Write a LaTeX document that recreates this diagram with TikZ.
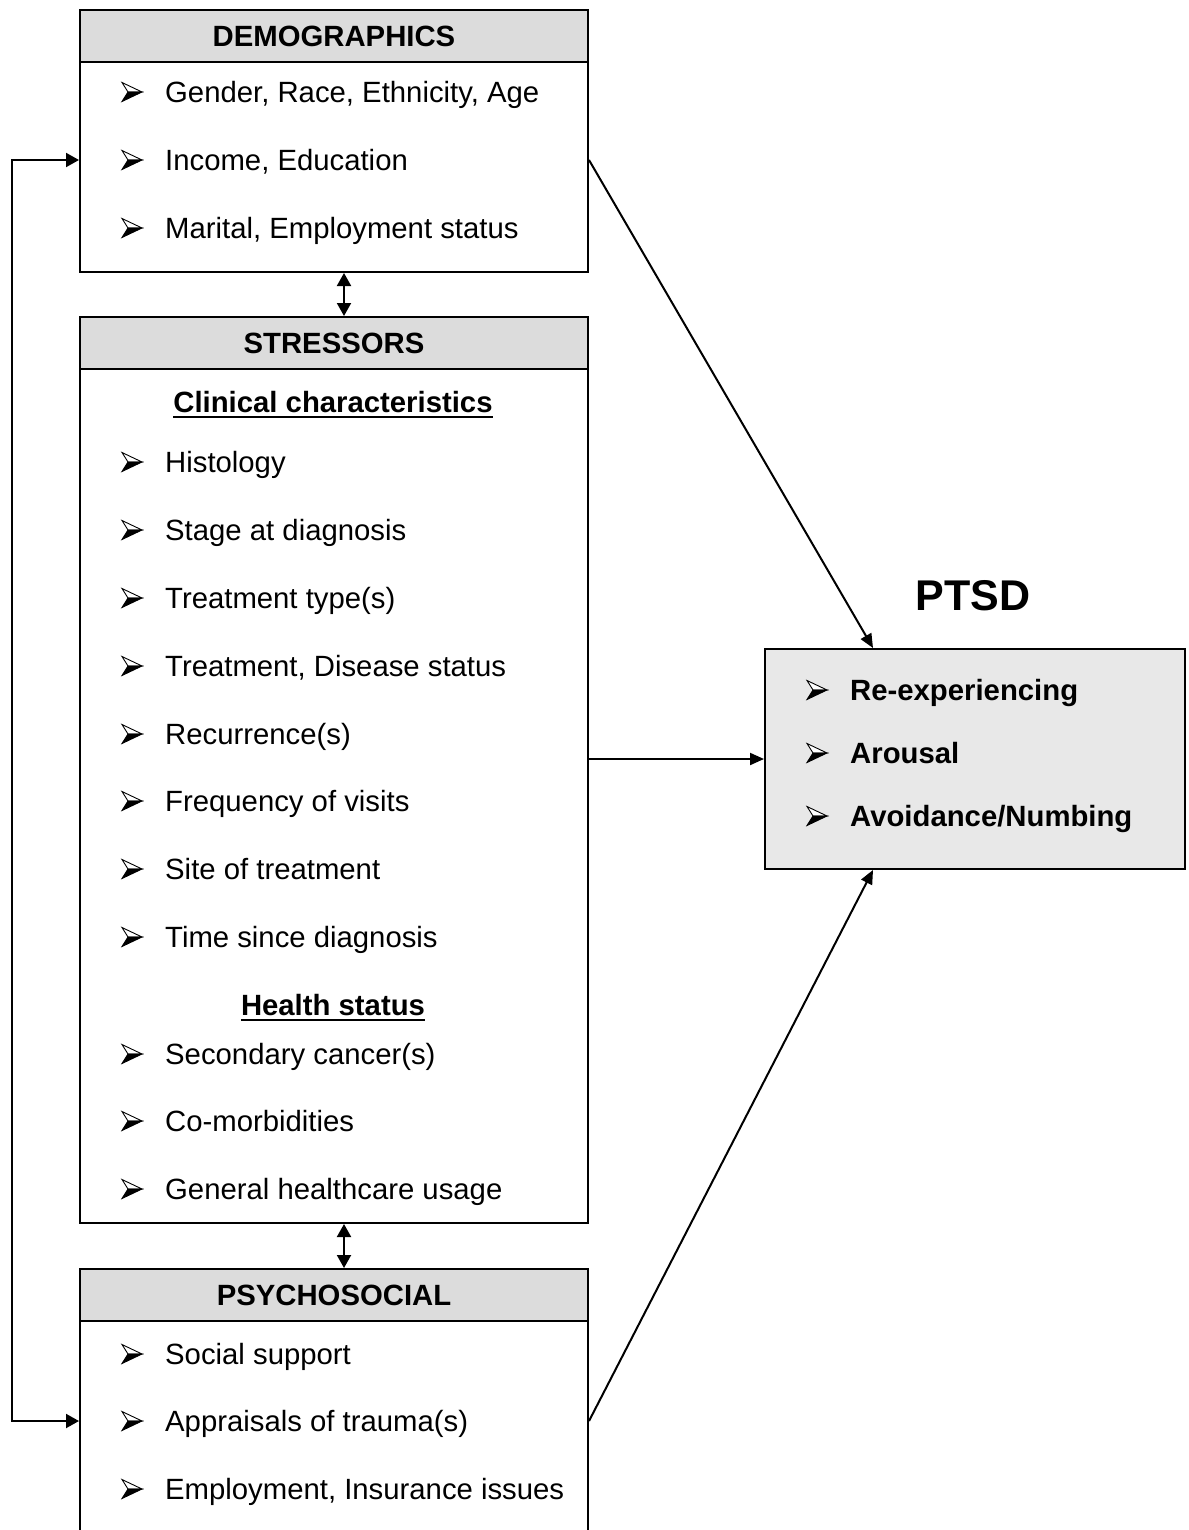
\documentclass[tikz,border=0pt]{standalone}
\usepackage{fontspec}
\setmainfont{Liberation Sans}
\usetikzlibrary{arrows.meta,calc}
\definecolor{hdrgray}{HTML}{DCDCDC}
\definecolor{ptsdgray}{HTML}{E8E8E8}
\begin{document}
\begin{tikzpicture}[x=1pt,y=-1pt,
  font=\fontsize{29.3}{35}\selectfont,
  frame/.style={draw=black,line width=2pt,fill=white,inner sep=0pt,anchor=north west,minimum width=508pt},
  hdr/.style={draw=black,line width=2pt,fill=hdrgray,inner sep=0pt,anchor=north west,minimum width=508pt,minimum height=52pt,font=\fontsize{29.3}{35}\selectfont\bfseries},
  item/.style={anchor=west,inner sep=0pt,text height=21pt,text depth=0pt},
  sub/.style={anchor=center,inner sep=0pt,text height=21pt,text depth=0pt,font=\fontsize{29.3}{35}\selectfont\bfseries},
  arr/.style={line width=2pt,-{Triangle[length=14pt,width=12pt]}},
  darr/.style={line width=2pt,{Triangle[length=13pt,width=14pt]}-{Triangle[length=13pt,width=14pt]}},
  barrow/.pic={
    \filldraw[fill=white,draw=black,line width=0.9pt,line join=miter] (10,0) -- (-10,-9.5) -- (-4,0) -- cycle;
    \filldraw[fill=black,draw=black,line width=0.9pt,line join=miter] (10,0) -- (-4,0) -- (-10,9.5) -- cycle;
  }
]
\useasboundingbox (0,0) rectangle (1188,1530);
\clip (0,0) rectangle (1188,1530);

% DEMOGRAPHICS
\node[frame,minimum height=262pt] (demo) at (79,9) {};
\node[hdr] (demoh) at (79,9) {DEMOGRAPHICS};
\foreach \y in {92,160,228} {\pic at (132,\y) {barrow};}
\node[item] (gen) at (165,92) {Gender, Race, Ethnicity, Age};
\node[item] (inc) at (165,160) {Income, Education};
\node[item] (mar) at (165,228) {Marital, Employment status};

% STRESSORS
\node[frame,minimum height=906pt] (stress) at (79,316) {};
\node[hdr] (stressh) at (79,316) {STRESSORS};
\node[sub] (clin) at (333,402) {Clinical characteristics};
\draw[line width=2pt] ($(clin.south west)+(0,4)$) -- ($(clin.south east)+(0,4)$);
\foreach \y in {462,530,598,666,734,801,869,937,1054,1121,1189} {\pic at (132,\y) {barrow};}
\node[item] (s1) at (165,462) {Histology};
\node[item] (s2) at (165,530) {Stage at diagnosis};
\node[item] (s3) at (165,598) {Treatment type(s)};
\node[item] (s4) at (165,666) {Treatment, Disease status};
\node[item] (s5) at (165,734) {Recurrence(s)};
\node[item] (s6) at (165,801) {Frequency of visits};
\node[item] (s7) at (165,869) {Site of treatment};
\node[item] (s8) at (165,937) {Time since diagnosis};
\node[sub] (health) at (333,1005) {Health status};
\draw[line width=2pt] ($(health.south west)+(0,4)$) -- ($(health.south east)+(0,4)$);
\node[item] (h1) at (165,1054) {Secondary cancer(s)};
\node[item] (h2) at (165,1121) {Co-morbidities};
\node[item] (h3) at (165,1189) {General healthcare usage};

% PSYCHOSOCIAL
\node[frame,minimum height=300pt] (psych) at (79,1268) {};
\node[hdr] (psychh) at (79,1268) {PSYCHOSOCIAL};
\foreach \y in {1354,1421,1489} {\pic at (132,\y) {barrow};}
\node[item] (soc) at (165,1354) {Social support};
\node[item] (appr) at (165,1421) {Appraisals of trauma(s)};
\node[item] (emp) at (165,1489) {Employment, Insurance issues};

% PTSD
\node[anchor=center,inner sep=0pt,font=\fontsize{43}{50}\selectfont\bfseries] (ptsdlbl) at (973,596) {PTSD};
\node[draw=black,line width=2pt,fill=ptsdgray,inner sep=0pt,anchor=north west,minimum width=420pt,minimum height=220pt] (ptsd) at (764,648) {};
\foreach \y in {690,753,816} {\pic at (817,\y) {barrow};}
\node[item,font=\fontsize{29.3}{35}\selectfont\bfseries] (p1) at (850,690) {Re-experiencing};
\node[item,font=\fontsize{29.3}{35}\selectfont\bfseries] (p2) at (850,753) {Arousal};
\node[item,font=\fontsize{29.3}{35}\selectfont\bfseries] (p3) at (850,816) {Avoidance/Numbing};

% connectors
\draw[darr] ($(demo.south)+(10,0)$) -- ($(stress.north)+(10,0)$);
\draw[darr] ($(stress.south)+(10,0)$) -- ($(psych.north)+(10,0)$);
\draw[darr] (demo.west |- inc.west) -- ++(-67,0) |- (psych.west |- appr.west);
\draw[arr] (demo.east |- inc.west) -- ($(ptsd.north west)+(109,0)$);
\draw[arr] (stress.east |- ptsd.west) -- (ptsd.west);
\draw[arr] (psych.east |- appr.west) -- ($(ptsd.south west)+(109,0)$);
\end{tikzpicture}
\end{document}
